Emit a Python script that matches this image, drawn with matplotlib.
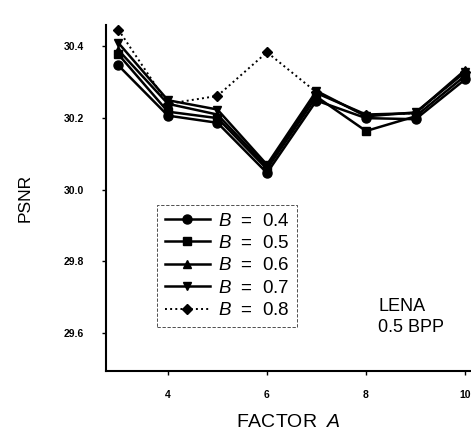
import matplotlib
matplotlib.use("Agg")
import matplotlib.pyplot as plt

plt.rcParams['font.family'] = ['Liberation Sans', 'DejaVu Sans']
plt.rcParams['mathtext.fontset'] = 'custom'
plt.rcParams['mathtext.it'] = 'Liberation Sans:italic'
plt.rcParams['mathtext.rm'] = 'Liberation Sans'

factor_a = [3, 4, 5, 6, 7, 8, 9, 10]
b_labels = ["0.4", "0.5", "0.6", "0.7", "0.8"]
psnr_b04 = [30.347, 30.207, 30.187, 30.047, 30.249, 30.200, 30.197, 30.308]
psnr_b05 = [30.378, 30.218, 30.200, 30.058, 30.260, 30.164, 30.205, 30.318]
psnr_b06 = [30.390, 30.240, 30.210, 30.064, 30.270, 30.210, 30.214, 30.334]
psnr_b07 = [30.410, 30.250, 30.224, 30.070, 30.276, 30.205, 30.216, 30.328]
psnr_b08 = [30.447, 30.240, 30.262, 30.384, 30.272, 30.208, 30.214, 30.330]
x_ticks = [4, 6, 8, 10]
y_ticks = [29.6, 29.8, 30.0, 30.2, 30.4]

series = [psnr_b04, psnr_b05, psnr_b06, psnr_b07, psnr_b08]
markers = ['o', 's', '^', 'v', 'D']
styles = ['-', '-', '-', '-', ':']
msizes = [6.5, 5.5, 6, 6, 5.5]

fig = plt.figure(figsize=(4.71, 4.32), dpi=100)
ax = fig.add_axes([106/471, 1-371/432, 1-106/471, (371-25)/432])

for vals, lab, m, ls, ms in zip(series, b_labels, markers, styles, msizes):
    ax.plot(factor_a, vals, color='black', linestyle=ls, linewidth=1.8 if ls == '-' else 1.4,
            marker=m, markersize=ms, label=r'$\mathit{B}$  =  ' + lab, clip_on=False)

ax.set_xlim(2.75, 10.12)
ax.set_ylim(29.494, 30.46)
ax.set_xticks(x_ticks)
ax.set_xticklabels([str(v) for v in x_ticks], fontsize=7.5, fontweight='bold')
ax.set_yticks(y_ticks)
ax.set_yticklabels(["%.1f" % v for v in y_ticks], fontsize=7.5, fontweight='bold')
ax.tick_params(axis='both', direction='out', length=3, width=1)
ax.tick_params(axis='x', pad=11)
ax.tick_params(axis='y', pad=13)
for s in ['top', 'right']:
    ax.spines[s].set_visible(False)
for s in ['left', 'bottom']:
    ax.spines[s].set_linewidth(1.5)

ax.set_ylabel('PSNR', fontsize=12.5, labelpad=22)
ax.set_xlabel(r'FACTOR  $\mathit{A}$', fontsize=14, labelpad=10)

leg = ax.legend(loc='upper left', bbox_to_anchor=((157-106)/365, (371-205)/346),
                fontsize=13.5, frameon=True, fancybox=False, handlelength=2.4,
                handletextpad=0.45, labelspacing=0.28, borderpad=0.4, borderaxespad=0)
leg.get_frame().set_edgecolor('black')
leg.get_frame().set_linewidth(0.6)
leg.get_frame().set_linestyle((0, (4, 2)))

ax.text(8.25, 29.645, 'LENA\n0.5 BPP', fontsize=13, ha='left', va='center', linespacing=1.35)

fig.savefig('out.png', dpi=100)
